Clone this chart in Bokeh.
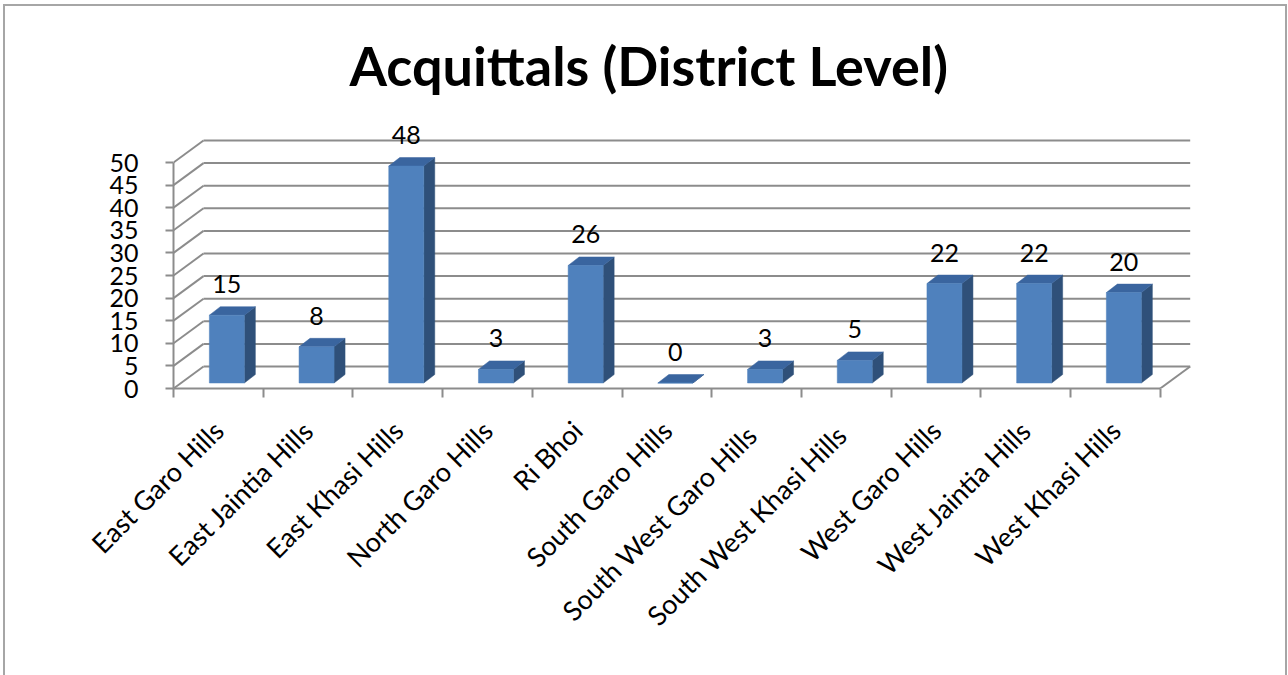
import numpy as np
from bokeh.plotting import figure
from bokeh.models import Range1d, FixedTicker
from bokeh.core.properties import value
from bokeh.embed import file_html
from bokeh.resources import INLINE

# ---------------- data ----------------
CATEGORIES = [
    "East Garo Hills", "East Jaintia Hills", "East Khasi Hills", "North Garo Hills",
    "Ri Bhoi", "South Garo Hills", "South West  Garo Hills", "South  West Khasi Hills",
    "West Garo Hills", "West Jaintia Hills", "West Khasi Hills",
]
ACQUITTALS = [15, 8, 48, 3, 26, 0, 3, 5, 22, 22, 20]
Y_TICKS = [0, 5, 10, 15, 20, 25, 30, 35, 40, 45, 50]
TITLE = "Acquittals (District Level)"

# ---------------- layout / style ----------------
W, H = 1280, 669
MARGIN_LEFT, MARGIN_TOP = 5, 6
B_LEFT, B_RIGHT, B_TOP, B_BOTTOM = 168, 85, 109, 287
FRAME_W = W - B_LEFT - B_RIGHT
FRAME_H = H - B_TOP - B_BOTTOM
PX_CAT = 89.7     # pixels per category
PX_VAL = 4.52     # pixels per unit of value

FONT = "Lato"
GRID_COLOR = "#8c8c8c"
FRONT = "#4f81bd"
SIDE = "#2f5079"
TOP = "#3a659f"

n = len(CATEGORIES)


def dx(px):
    return px / PX_CAT


def dy(px):
    return px / PX_VAL


WALL_DX, WALL_DY = dx(30), dy(22)
BAR_FX, BAR_FY = dx(8.5), dy(5.5)
BAR_HW = dx(17.5)
BAR_SX, BAR_SY = dx(11), dy(8.5)

p = figure(
    width=W, height=H,
    x_range=Range1d(0, FRAME_W / PX_CAT), y_range=Range1d(0, FRAME_H / PX_VAL),
    output_backend="svg", toolbar_location=None,
    min_border_left=B_LEFT, min_border_right=B_RIGHT,
    min_border_top=B_TOP, min_border_bottom=B_BOTTOM,
    background_fill_color="white", border_fill_color="white",
)
p.outline_line_color = None
p.styles = {
    "margin-left": f"{MARGIN_LEFT}px",
    "margin-top": f"{MARGIN_TOP}px",
    "outline": "2px solid #a6a6a6",
    "outline-offset": "0px",
}
p.xgrid.visible = False
p.ygrid.visible = False

# title
p.title.text = TITLE
p.title.text_font = FONT
p.title.text_font_size = "54px"
p.title.text_font_style = "bold"
p.title.text_color = "black"
p.title.align = "left"
p.title.offset = 176
p.title.standoff = 36

# y axis
ya = p.yaxis[0]
ya.ticker = FixedTicker(ticks=Y_TICKS, minor_ticks=[])
ya.bounds = (Y_TICKS[0], Y_TICKS[-1])
ya.axis_line_color = GRID_COLOR
ya.axis_line_width = 2
ya.major_tick_line_color = GRID_COLOR
ya.major_tick_line_width = 2
ya.major_tick_out = 8
ya.major_tick_in = 0
ya.major_label_standoff = 27
ya.major_label_text_font = FONT
ya.major_label_text_font_size = "25px"
ya.major_label_text_color = "black"

# x axis (labels at category centres, tick marks at boundaries)
xa = p.xaxis[0]
centres = [i + 0.5 for i in range(n)]
xa.ticker = FixedTicker(ticks=centres, minor_ticks=list(range(n + 1)))
xa.major_label_overrides = {c: name for c, name in zip(centres, CATEGORIES)}
xa.bounds = (0, n)
xa.axis_line_color = GRID_COLOR
xa.axis_line_width = 2
xa.major_tick_line_color = None
xa.major_tick_out = 9
xa.minor_tick_line_color = GRID_COLOR
xa.minor_tick_line_width = 2
xa.minor_tick_out = 9
xa.minor_tick_in = 0
xa.major_label_orientation = np.pi / 4
xa.major_label_standoff = 28
xa.major_label_text_font = FONT
xa.major_label_text_font_size = "27px"
xa.major_label_text_color = "black"

# back wall gridlines
p.segment(x0=[WALL_DX] * len(Y_TICKS), y0=[t + WALL_DY for t in Y_TICKS],
          x1=[n + WALL_DX] * len(Y_TICKS), y1=[t + WALL_DY for t in Y_TICKS],
          line_color=GRID_COLOR, line_width=2)
# left wall diagonals
p.segment(x0=[0] * len(Y_TICKS), y0=Y_TICKS,
          x1=[WALL_DX] * len(Y_TICKS), y1=[t + WALL_DY for t in Y_TICKS],
          line_color=GRID_COLOR, line_width=2)
# floor right edge
p.segment(x0=[n], y0=[0], x1=[n + WALL_DX], y1=[WALL_DY],
          line_color=GRID_COLOR, line_width=2)

# 3D bars
side_xs, side_ys, top_xs, top_ys = [], [], [], []
lefts, rights, bottoms, tops = [], [], [], []
for i, v in enumerate(ACQUITTALS):
    c = i + 0.5
    l, r = c + BAR_FX - BAR_HW, c + BAR_FX + BAR_HW
    b, t = BAR_FY, v + BAR_FY
    lefts.append(l); rights.append(r); bottoms.append(b); tops.append(t)
    side_xs.append([r, r + BAR_SX, r + BAR_SX, r])
    side_ys.append([b, b + BAR_SY, t + BAR_SY, t])
    top_xs.append([l, r, r + BAR_SX, l + BAR_SX])
    top_ys.append([t, t, t + BAR_SY, t + BAR_SY])

p.patches(xs=side_xs, ys=side_ys, fill_color=SIDE, line_color=SIDE, line_width=0.5)
p.patches(xs=top_xs, ys=top_ys, fill_color=TOP, line_color=TOP, line_width=0.5)
p.quad(left=lefts, right=rights, bottom=bottoms, top=tops,
       fill_color=FRONT, line_color=FRONT, line_width=0.5)

# data labels
p.text(x=centres, y=ACQUITTALS, text=[str(v) for v in ACQUITTALS],
       x_offset=8.5, y_offset=-36.5, text_align="center", text_baseline="middle",
       text_font=value(FONT), text_font_size="25px", text_color="black")

open("out.html", "w").write(file_html(p, INLINE))
